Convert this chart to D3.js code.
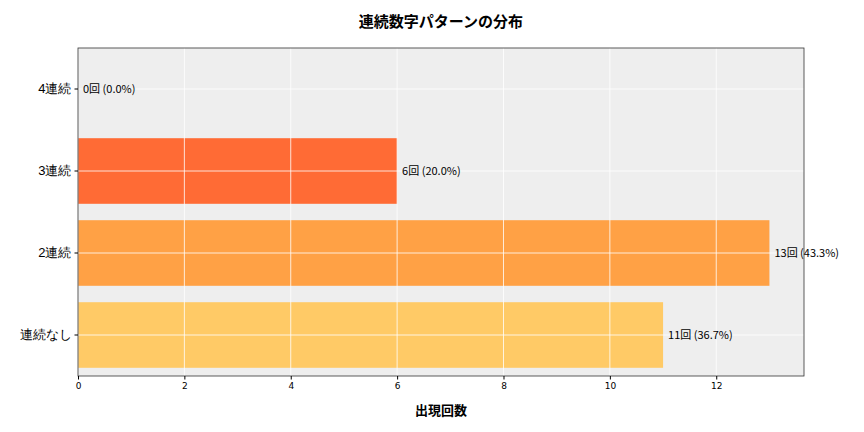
<!DOCTYPE html>
<html><head><meta charset="utf-8">
<script src="https://cdn.jsdelivr.net/npm/d3@7"></script>
<style>body{margin:0;background:#fff;font-family:"Noto Sans CJK JP","Noto Sans",sans-serif;}</style>
</head><body><svg id="c" width="864" height="432"></svg>
<script>
const categories = ["4連続","3連続","2連続","連続なし"];
const counts = [0, 6, 13, 11];
const labels = ["0回 (0.0%)","6回 (20.0%)","13回 (43.3%)","11回 (36.7%)"];
const colors = ["#FF4500","#FF6B35","#FFA145","#FFCA66"];
const xTicks = [0,2,4,6,8,10,12];

const svg = d3.select("#c");
const m = {l:78, r:804, t:48, b:376};
const x = d3.scaleLinear().domain([0, 13.65]).range([m.l, m.r]);
const y = d3.scaleBand().domain(categories).range([m.t, m.b]).paddingInner(0.2).paddingOuter(0.1);

svg.append("rect").attr("x",m.l).attr("y",m.t).attr("width",m.r-m.l).attr("height",m.b-m.t).attr("fill","#EEEEEE");
svg.selectAll("rect.bar").data(categories).enter().append("rect").attr("class","bar")
  .attr("x",x(0)).attr("y",d=>y(d)).attr("height",y.bandwidth())
  .attr("width",(d,i)=>x(counts[i])-x(0)).attr("fill",(d,i)=>colors[i]);
// grid on top
svg.selectAll("line.gx").data(xTicks).enter().append("line")
  .attr("x1",d=>x(d)).attr("x2",d=>x(d)).attr("y1",m.t).attr("y2",m.b).attr("stroke","#fff").attr("stroke-width",0.8);
svg.selectAll("line.gy").data(categories).enter().append("line")
  .attr("x1",m.l).attr("x2",m.r).attr("y1",d=>y(d)+y.bandwidth()/2).attr("y2",d=>y(d)+y.bandwidth()/2).attr("stroke","#fff").attr("stroke-width",0.8);
svg.append("rect").attr("x",m.l).attr("y",m.t).attr("width",m.r-m.l).attr("height",m.b-m.t).attr("fill","none").attr("stroke","#333").attr("stroke-width",0.8);

const xa = svg.append("g").attr("transform",`translate(0,${m.b})`).call(d3.axisBottom(x).tickValues(xTicks).tickSize(3.5));
xa.select(".domain").remove();
xa.selectAll("text").attr("font-size",9).attr("font-family","DejaVu Sans");
const ya = svg.append("g").attr("transform",`translate(${m.l},0)`).call(d3.axisLeft(y).tickSize(3.5));
ya.select(".domain").remove();
ya.selectAll("text").attr("font-size",13).attr("fill","#000");

svg.selectAll("text.v").data(categories).enter().append("text")
  .attr("x",(d,i)=>x(counts[i])+5).attr("y",d=>y(d)+y.bandwidth()/2).attr("dy","0.35em")
  .attr("font-size",11).text((d,i)=>labels[i]);

svg.append("text").attr("x",(m.l+m.r)/2).attr("y",27).attr("text-anchor","middle").attr("font-size",15).attr("font-weight","bold").text("連続数字パターンの分布");
svg.append("text").attr("x",(m.l+m.r)/2).attr("y",415).attr("text-anchor","middle").attr("font-size",13).attr("font-weight","bold").text("出現回数");
</script></body></html>
